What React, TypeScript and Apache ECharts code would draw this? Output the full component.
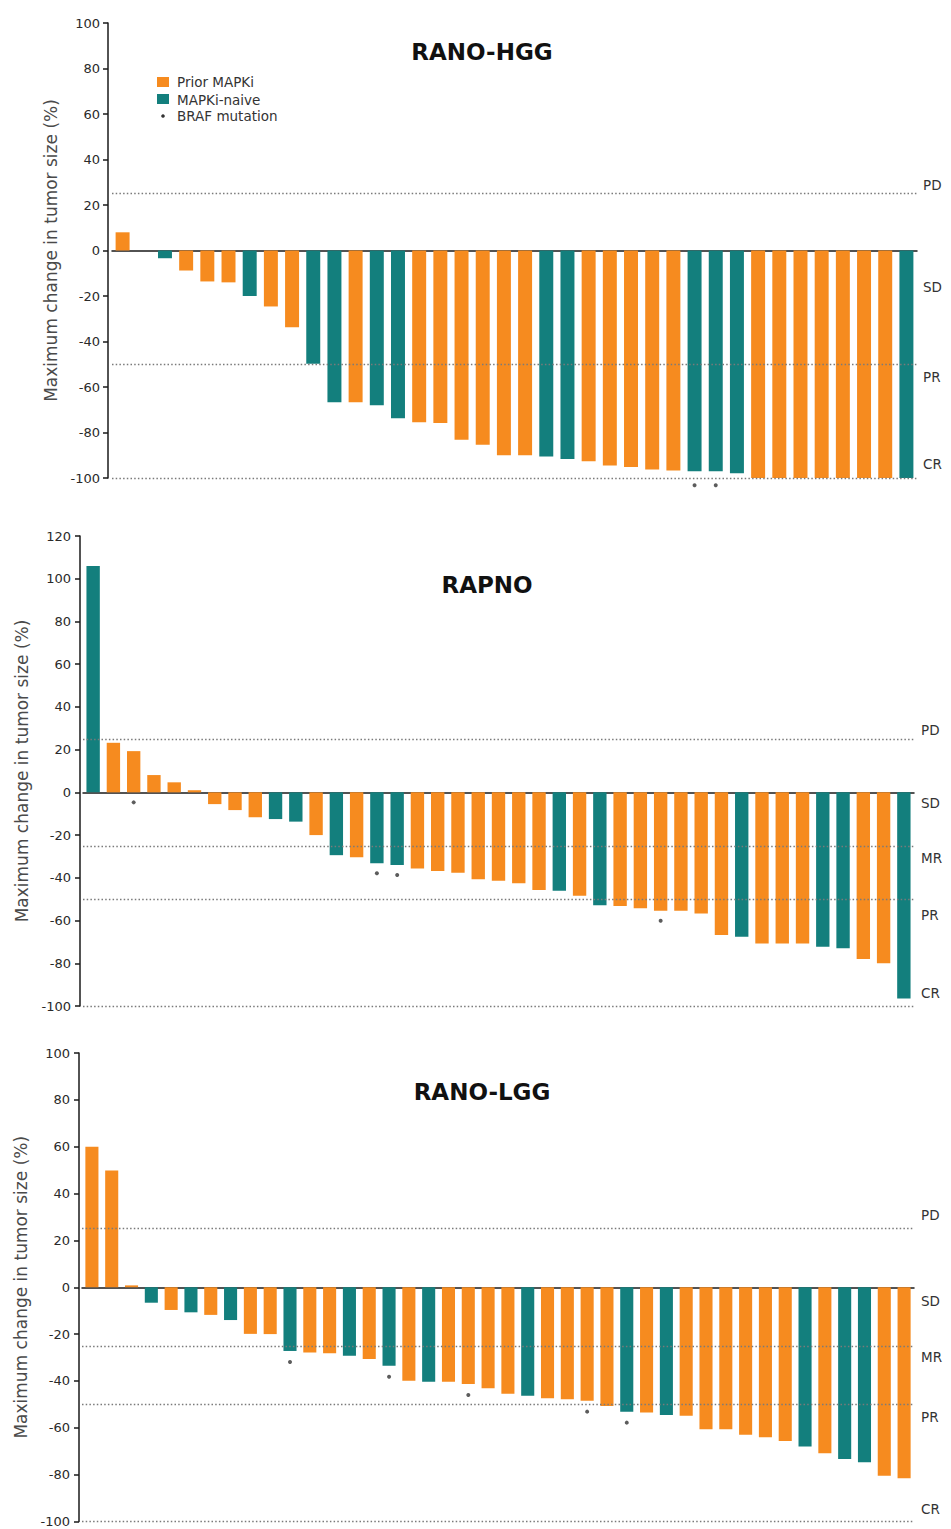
import React, { useEffect, useRef } from 'react';
import * as echarts from 'echarts';

const ORANGE = '#F68B1F';
const TEAL = '#137F7D';
const FONT = 'DejaVu Sans';

// ---- Data ----
const hggValues = [8, 0, -3.4, -8.8, -13.6, -14, -20, -24.6, -33.7, -49.8, -66.7, -66.7, -68, -73.7, -75.5, -75.8, -83.2, -85.4, -90, -90, -90.5, -91.6, -92.6, -94.5, -95.2, -96.3, -96.7, -97, -97, -97.9, -100, -100, -100, -100, -100, -100, -100, -100];
const hggGroups = ['P', 'P', 'N', 'P', 'P', 'P', 'N', 'P', 'P', 'N', 'N', 'P', 'N', 'N', 'P', 'P', 'P', 'P', 'P', 'P', 'N', 'N', 'P', 'P', 'P', 'P', 'P', 'N', 'N', 'N', 'P', 'P', 'P', 'P', 'P', 'P', 'P', 'N'];
const hggBraf = [27, 28];
const hggThresholds = [25, -50, -100];
const hggResponse = ['PD', 'SD', 'PR', 'CR'];

const rapnoValues = [106, 23.2, 19.3, 8.1, 4.7, 1, -5.5, -8.3, -11.7, -12.5, -13.7, -20, -29.4, -30.4, -33.2, -34, -35.6, -36.8, -37.6, -40.7, -41.4, -42.6, -45.7, -46, -48.4, -52.8, -53.2, -54.3, -55.4, -55.4, -56.7, -66.8, -67.6, -70.7, -70.7, -70.7, -72.3, -73, -78, -80, -96.5];
const rapnoGroups = ['N', 'P', 'P', 'P', 'P', 'P', 'P', 'P', 'P', 'N', 'N', 'P', 'N', 'P', 'N', 'N', 'P', 'P', 'P', 'P', 'P', 'P', 'P', 'N', 'P', 'N', 'P', 'P', 'P', 'P', 'P', 'P', 'N', 'P', 'P', 'P', 'N', 'N', 'P', 'P', 'N'];
const rapnoBraf = [2, 14, 15, 28];
const rapnoThresholds = [25, -25, -50, -100];
const rapnoResponse = ['PD', 'SD', 'MR', 'PR', 'CR'];

const lggValues = [60, 49.8, 0.8, -6.6, -9.7, -10.7, -11.8, -14, -19.9, -20, -27.2, -27.9, -28.2, -29.2, -30.6, -33.5, -39.9, -40.3, -40.3, -41.3, -43.1, -45.5, -46.3, -47.4, -47.8, -48.4, -50.7, -53.1, -53.5, -54.5, -54.9, -60.6, -60.6, -63, -64, -65.6, -68, -70.9, -73.3, -74.7, -80.5, -81.5];
const lggGroups = ['P', 'P', 'P', 'N', 'P', 'N', 'P', 'N', 'P', 'P', 'N', 'P', 'P', 'N', 'P', 'N', 'P', 'N', 'P', 'P', 'P', 'P', 'N', 'P', 'P', 'P', 'P', 'N', 'P', 'N', 'P', 'P', 'P', 'P', 'P', 'P', 'N', 'P', 'N', 'N', 'P', 'P'];
const lggBraf = [10, 15, 19, 25, 27];
const lggThresholds = [25, -25, -50, -100];
const lggResponse = ['PD', 'SD', 'MR', 'PR', 'CR'];

const legendNames = ['Prior MAPKi', 'MAPKi-naive', 'BRAF mutation'];
const yAxisTitle = 'Maximum change in tumor size (%)';

// ---- Layout (styles / positions) ----
const panels = [
  {
    title: 'RANO-HGG', values: hggValues, groups: hggGroups, braf: hggBraf,
    thresholds: hggThresholds, response: hggResponse, min: -100, max: 100,
    grid: { left: 112, top: 23, width: 805, height: 455 }, axisOffset: 4, labelMargin: 8,
    markerOffset: 14, titleXY: [482, 52], respX: 923, respY: [185, 287, 377, 464],
  },
  {
    title: 'RAPNO', values: rapnoValues, groups: rapnoGroups, braf: rapnoBraf,
    thresholds: rapnoThresholds, response: rapnoResponse, min: -100, max: 120,
    grid: { left: 83, top: 536, width: 831, height: 470 }, axisOffset: 3, labelMargin: 9,
    markerOffset: 10, titleXY: [487, 585], respX: 921, respY: [730, 803, 858, 915, 993],
  },
  {
    title: 'RANO-LGG', values: lggValues, groups: lggGroups, braf: lggBraf,
    thresholds: lggThresholds, response: lggResponse, min: -100, max: 100,
    grid: { left: 82, top: 1053, width: 832, height: 468.5 }, axisOffset: 3, labelMargin: 9,
    markerOffset: 11, titleXY: [482, 1092], respX: 921, respY: [1215, 1301, 1357, 1417, 1509],
  },
];

export default function App() {
  const ref = useRef<HTMLDivElement>(null);

  useEffect(() => {
    if (!ref.current) return;
    const chart = echarts.init(ref.current, undefined, { renderer: 'svg' });

    const grid: any[] = [];
    const xAxis: any[] = [];
    const yAxis: any[] = [];
    const series: any[] = [];
    const graphic: any[] = [];

    panels.forEach((p, gi) => {
      grid.push({ ...p.grid, containLabel: false });
      xAxis.push({
        gridIndex: gi,
        type: 'category',
        data: p.values.map((_, i) => String(i + 1)),
        axisLine: { show: true, onZero: true, lineStyle: { color: '#1a1a1a', width: 1.5 } },
        axisTick: { show: false },
        axisLabel: { show: false },
        splitLine: { show: false },
      });
      yAxis.push({
        gridIndex: gi,
        type: 'value',
        min: p.min,
        max: p.max,
        interval: 20,
        offset: p.axisOffset,
        axisLine: { show: true, lineStyle: { color: '#1a1a1a', width: 1.5 } },
        axisTick: { show: true, length: 5, lineStyle: { color: '#1a1a1a', width: 1.5 } },
        axisLabel: { fontSize: 13, color: '#2a2a2a', fontFamily: FONT, margin: p.labelMargin },
        splitLine: { show: false },
        name: yAxisTitle,
        nameLocation: 'middle',
        nameGap: 41,
        nameTextStyle: { fontSize: 17, color: '#4a4a4a', fontFamily: FONT },
      });
      series.push({
        type: 'bar',
        name: p.title,
        xAxisIndex: gi,
        yAxisIndex: gi,
        barCategoryGap: '34%',
        data: p.values.map((v, i) => ({
          value: v,
          itemStyle: { color: p.groups[i] === 'P' ? ORANGE : TEAL },
        })),
        markLine: {
          silent: true,
          symbol: 'none',
          label: { show: false },
          lineStyle: { type: [1.5, 2.2], color: '#7a7a7a', width: 1.4 },
          data: p.thresholds.map((t) => ({ yAxis: t })),
          z: 5,
        },
      });
      series.push({
        type: 'scatter',
        name: legendNames[2],
        xAxisIndex: gi,
        yAxisIndex: gi,
        clip: false,
        symbol: 'circle',
        symbolSize: 4,
        symbolOffset: [0, p.markerOffset],
        itemStyle: { color: '#333' },
        z: 10,
        data: p.braf.map((i) => [i, Math.min(p.values[i], 0)]),
      });
      graphic.push({
        type: 'text',
        x: p.titleXY[0],
        y: p.titleXY[1],
        style: {
          text: p.title,
          fontSize: 23,
          fontWeight: 'bold',
          fontFamily: FONT,
          fill: '#111',
          align: 'center',
          verticalAlign: 'middle',
        },
      });
      p.response.forEach((r, k) => {
        graphic.push({
          type: 'text',
          x: p.respX,
          y: p.respY[k],
          style: {
            text: r,
            fontSize: 13.5,
            fontFamily: FONT,
            fill: '#333',
            align: 'left',
            verticalAlign: 'middle',
          },
        });
      });
    });

    // Legend (top panel)
    graphic.push(
      { type: 'rect', shape: { x: 157, y: 77, width: 12, height: 10 }, style: { fill: ORANGE } },
      { type: 'text', x: 177, y: 82, style: { text: legendNames[0], fontSize: 13.5, fontFamily: FONT, fill: '#333', verticalAlign: 'middle' } },
      { type: 'rect', shape: { x: 157, y: 94, width: 12, height: 10 }, style: { fill: TEAL } },
      { type: 'text', x: 177, y: 99.5, style: { text: legendNames[1], fontSize: 13.5, fontFamily: FONT, fill: '#333', verticalAlign: 'middle' } },
      { type: 'circle', shape: { cx: 163, cy: 116, r: 1.8 }, style: { fill: '#333' } },
      { type: 'text', x: 177, y: 116, style: { text: legendNames[2], fontSize: 13.5, fontFamily: FONT, fill: '#333', verticalAlign: 'middle' } },
    );

    chart.setOption({
      animation: false,
      backgroundColor: '#ffffff',
      grid,
      xAxis,
      yAxis,
      series,
      graphic,
    });

    return () => chart.dispose();
  }, []);

  return (
    <div
      ref={ref}
      style={{ position: 'absolute', left: 0, top: 0, width: 951, height: 1529 }}
    />
  );
}
